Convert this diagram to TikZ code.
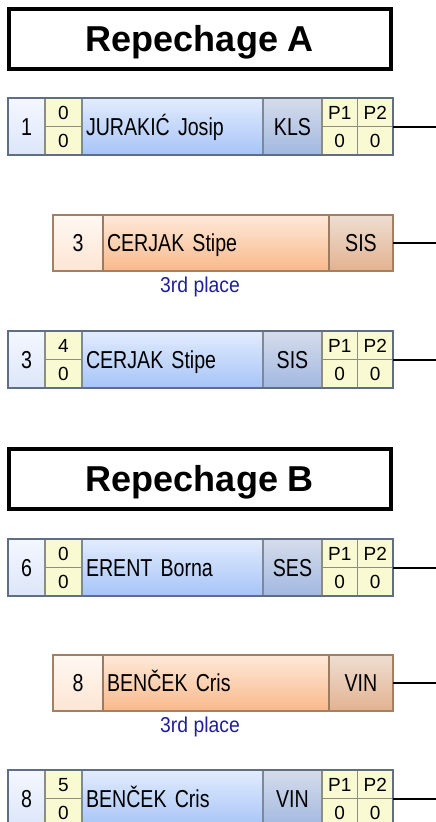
\documentclass[tikz,border=0pt]{standalone}
\usepackage{fontspec}
\setmainfont{Liberation Sans}
\newfontfamily\cellfont{Liberation Sans}[FakeStretch=0.8]
\newfontfamily\placefont{Liberation Sans}[FakeStretch=0.9]

\definecolor{blueframe}{HTML}{5F6E82}
\definecolor{bluegrid}{HTML}{7D8898}
\definecolor{seedtop}{HTML}{F4F7FF}
\definecolor{seedbot}{HTML}{DCE6F9}
\definecolor{nametop}{HTML}{E2ECFD}
\definecolor{namebot}{HTML}{A7C4F7}
\definecolor{clubtop}{HTML}{D5DCEB}
\definecolor{clubbot}{HTML}{A2B8E0}
\definecolor{yellowcell}{HTML}{FAFAD2}
\definecolor{yellowgrid}{HTML}{8D8D82}
\definecolor{orangeframe}{HTML}{A57F5F}
\definecolor{orangegrid}{HTML}{9C7B60}
\definecolor{oseedtop}{HTML}{FFF8F2}
\definecolor{oseedbot}{HTML}{FDE5D3}
\definecolor{onametop}{HTML}{FEE9DA}
\definecolor{onamebot}{HTML}{F8B98B}
\definecolor{oclubtop}{HTML}{EEDED2}
\definecolor{oclubbot}{HTML}{E2B290}
\definecolor{placeblue}{HTML}{1F1F99}

\begin{document}
\begin{tikzpicture}[x=1pt,y=-1pt,
    cell/.style={draw=bluegrid,line width=1.2pt,inner sep=0pt,outer sep=0pt,
                 anchor=north west,minimum height=57pt,text depth=0pt},
    bigtext/.style={font=\cellfont\fontsize{24.5}{27}\selectfont,text height=17.6pt},
    smalltext/.style={font=\fontsize{19}{21}\selectfont,text height=13.6pt,minimum height=28.5pt},
    seedcell/.style={cell,bigtext,top color=seedtop,bottom color=seedbot,minimum width=37pt},
    scorecell/.style={cell,smalltext,draw=yellowgrid,fill=yellowcell,minimum width=37pt},
    namecell/.style={cell,bigtext,top color=nametop,bottom color=namebot,text width=173pt,inner xsep=4pt,align=left},
    clubcell/.style={cell,bigtext,top color=clubtop,bottom color=clubbot,minimum width=59pt},
    pcell/.style={scorecell,minimum width=35.5pt},
    oseedcell/.style={cell,bigtext,draw=orangegrid,top color=oseedtop,bottom color=oseedbot,minimum width=50pt,minimum height=56pt},
    onamecell/.style={cell,bigtext,draw=orangegrid,top color=onametop,bottom color=onamebot,minimum height=56pt,
                  text width=218pt,inner xsep=4pt,align=left},
    oclubcell/.style={cell,bigtext,draw=orangegrid,top color=oclubtop,bottom color=oclubbot,minimum width=64pt,minimum height=56pt},
    rowframe/.style={draw=blueframe,line width=2pt},
    orowframe/.style={draw=orangeframe,line width=2pt},
    link/.style={line width=2pt},
    titlebox/.style={draw,line width=4pt,minimum width=382pt,minimum height=60pt,inner sep=0pt,
                     font=\bfseries\fontsize{36}{40}\selectfont,text height=25.8pt,text depth=0pt},
    placelabel/.style={inner sep=0pt,text=placeblue,font=\placefont\fontsize{21.5}{24}\selectfont,
                  text height=15.4pt,text depth=0pt}]

\useasboundingbox (0,0) rectangle (436,822);
\clip (0,0) rectangle (436,822);

% Repechage A
\node[titlebox] (ta) at (200,39) {Repechage A};

% first bout
\node[seedcell] (a1) at (8,98) {1};
\node[scorecell] (a1s) at (a1.north east) {0};
\node[scorecell] (a1t) at (a1s.south west) {0};
\node[namecell] (a1n) at (a1s.north east) {JURAKIĆ Josip};
\node[clubcell] (a1c) at (a1n.north east) {KLS};
\node[pcell] (a1p) at (a1c.north east) {P1};
\node[pcell] (a1q) at (a1p.north east) {P2};
\node[pcell] (a1x) at (a1p.south west) {0};
\node[pcell] (a1y) at (a1q.south west) {0};
\draw[rowframe] (a1.north west) rectangle (a1y.south east);
\coordinate (a1out) at (436,126.5);
\draw[link] (a1y.north east) -- (a1out);

% winner
\node[oseedcell] (a2) at (53,215) {3};
\node[onamecell] (a2n) at (a2.north east) {CERJAK Stipe};
\node[oclubcell] (a2c) at (a2n.north east) {SIS};
\draw[orowframe] (a2.north west) rectangle (a2c.south east);
\coordinate (a2out) at (436,243);
\draw[link] (a2c.east) -- (a2out);
\node[placelabel] (a2l) at (200,285) {3rd place};

% second bout
\node[seedcell] (a3) at (8,331) {3};
\node[scorecell] (a3s) at (a3.north east) {4};
\node[scorecell] (a3t) at (a3s.south west) {0};
\node[namecell] (a3n) at (a3s.north east) {CERJAK Stipe};
\node[clubcell] (a3c) at (a3n.north east) {SIS};
\node[pcell] (a3p) at (a3c.north east) {P1};
\node[pcell] (a3q) at (a3p.north east) {P2};
\node[pcell] (a3x) at (a3p.south west) {0};
\node[pcell] (a3y) at (a3q.south west) {0};
\draw[rowframe] (a3.north west) rectangle (a3y.south east);
\coordinate (a3out) at (436,359.5);
\draw[link] (a3y.north east) -- (a3out);

% Repechage B
\node[titlebox] (tb) at (200,479) {Repechage B};

% first bout
\node[seedcell] (b1) at (8,539) {6};
\node[scorecell] (b1s) at (b1.north east) {0};
\node[scorecell] (b1t) at (b1s.south west) {0};
\node[namecell] (b1n) at (b1s.north east) {ERENT Borna};
\node[clubcell] (b1c) at (b1n.north east) {SES};
\node[pcell] (b1p) at (b1c.north east) {P1};
\node[pcell] (b1q) at (b1p.north east) {P2};
\node[pcell] (b1x) at (b1p.south west) {0};
\node[pcell] (b1y) at (b1q.south west) {0};
\draw[rowframe] (b1.north west) rectangle (b1y.south east);
\coordinate (b1out) at (436,567.5);
\draw[link] (b1y.north east) -- (b1out);

% winner
\node[oseedcell] (b2) at (53,655) {8};
\node[onamecell] (b2n) at (b2.north east) {BENČEK Cris};
\node[oclubcell] (b2c) at (b2n.north east) {VIN};
\draw[orowframe] (b2.north west) rectangle (b2c.south east);
\coordinate (b2out) at (436,683);
\draw[link] (b2c.east) -- (b2out);
\node[placelabel] (b2l) at (200,725) {3rd place};

% second bout
\node[seedcell] (b3) at (8,770) {8};
\node[scorecell] (b3s) at (b3.north east) {5};
\node[scorecell] (b3t) at (b3s.south west) {0};
\node[namecell] (b3n) at (b3s.north east) {BENČEK Cris};
\node[clubcell] (b3c) at (b3n.north east) {VIN};
\node[pcell] (b3p) at (b3c.north east) {P1};
\node[pcell] (b3q) at (b3p.north east) {P2};
\node[pcell] (b3x) at (b3p.south west) {0};
\node[pcell] (b3y) at (b3q.south west) {0};
\draw[rowframe] (b3.north west) rectangle (b3y.south east);
\coordinate (b3out) at (436,798.5);
\draw[link] (b3y.north east) -- (b3out);

\end{tikzpicture}
\end{document}
